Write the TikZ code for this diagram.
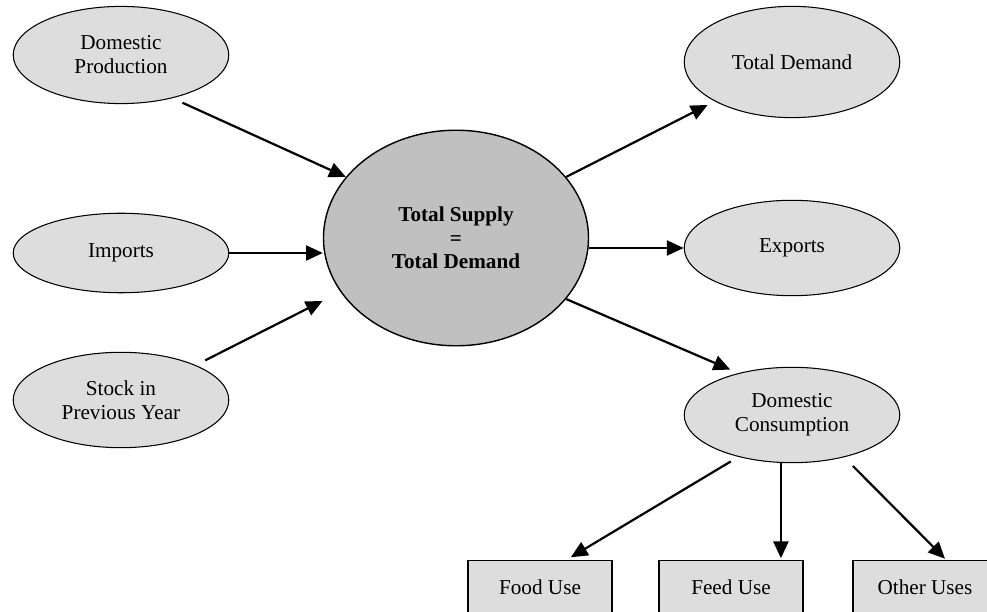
\documentclass[tikz,border=0pt]{standalone}
\usepackage{fontspec}
\setmainfont{Liberation Serif}
\usetikzlibrary{shapes.geometric,arrows.meta,calc}
\definecolor{lightgrey}{RGB}{221,221,221}
\definecolor{midgrey}{RGB}{192,192,192}

\begin{document}
\begin{tikzpicture}[
    x=0.566pt, y=-0.566pt,
    bubble/.style={ellipse, draw=black, line width=0.6pt, fill=lightgrey, inner sep=0pt,
                   minimum width=122pt, minimum height=#1, align=center,
                   font=\fontsize{12}{13.5}\selectfont},
    bubble/.default=54pt,
    usebox/.style={rectangle, draw=black, line width=0.8pt, fill=lightgrey, anchor=north,
                   minimum width=81.5pt, minimum height=30pt, font=\fontsize{12}{13.5}\selectfont},
    link/.style={-{Triangle[length=9.5pt,width=8.5pt]}, line width=1.25pt}
]
\useasboundingbox (0,0) rectangle (987,612);

% Supply side
\node[bubble=55pt] (prod) at (121,55) {Domestic\\Production};
\node[bubble=45pt] (imp) at (121,253) {Imports};
\node[bubble] (stock) at (121,400) {Stock in\\Previous Year};

% Balance in the middle
\node[ellipse, draw=black, line width=0.8pt, fill=midgrey, inner sep=0pt,
      minimum width=150pt, minimum height=122pt, align=center,
      font=\fontsize{12}{13.3}\selectfont\bfseries] (supply) at (456,238)
      {Total Supply\\=\\Total Demand};

% Demand side
\node[bubble=63pt] (tdem) at (792,62) {Total Demand};
\node[bubble] (exp) at (792,248) {Exports};
\node[bubble] (cons) at (792,415) {Domestic\\Consumption};

% Uses of domestic consumption
\node[usebox] (food) at (540,560) {Food Use};
\node[usebox] (feed) at (731,560) {Feed Use};
\node[usebox] (other) at (925,560) {Other Uses};

% Arrows
\draw[link, shorten <=6.2pt] (prod.-40) -- (supply.151);
\draw[link] (imp.east) -- (imp.east -| supply.west);
\draw[link, shorten <=6pt, shorten >=11.3pt] (stock.25) -- (supply.205);
\draw[link, shorten >=4.5pt] (supply.29) -- (tdem.207);
\draw[link] (exp.west -| supply.east) -- (exp.west);
\draw[link, shorten >=5pt] (supply.-29) -- (cons.142);
\draw[link, shorten <=5pt, shorten >=3pt] (cons.218) -- (food.46);
\draw[link, shorten >=1pt] (cons.257) -- (cons.257 |- feed.north);
\draw[link, shorten <=7pt, shorten >=1pt] (cons.-39) -- (other.52);

\end{tikzpicture}
\end{document}
